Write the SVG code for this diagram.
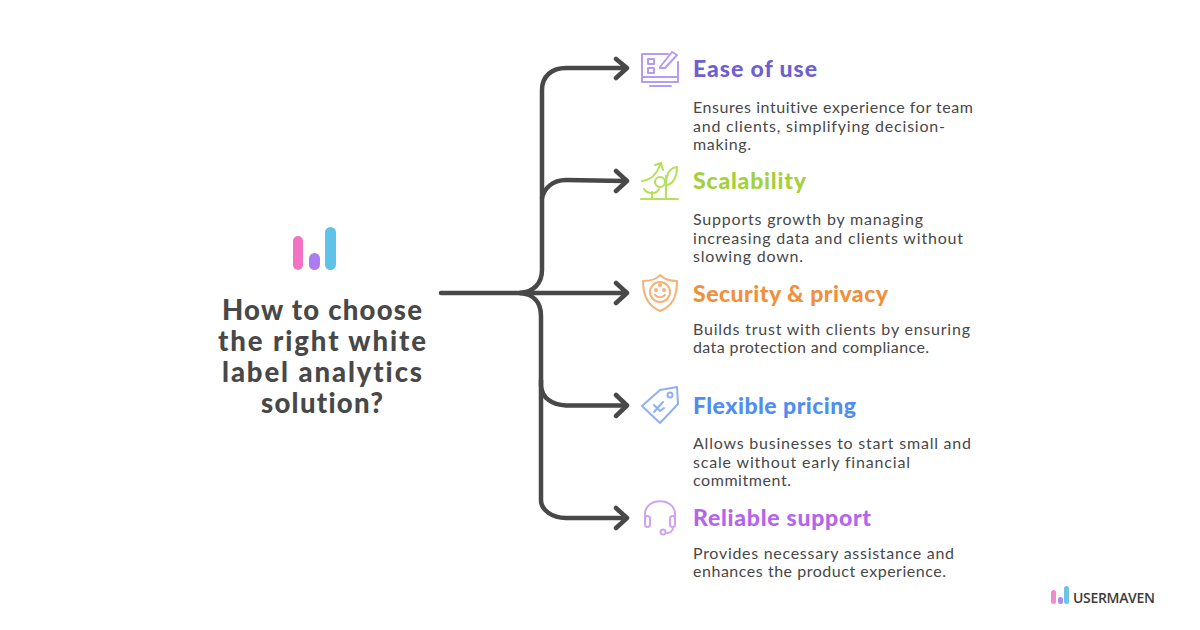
<svg xmlns="http://www.w3.org/2000/svg" width="1200" height="630" viewBox="0 0 1200 630">
<style>
text{font-variant-ligatures:none}
.t{font-family:"Lato","Noto Sans",sans-serif;font-weight:900;font-size:27.500px;fill:#484848;text-anchor:middle}
.h{font-family:"Lato","Noto Sans",sans-serif;font-weight:900;font-size:23px}
.b{font-family:"Lato","Noto Sans",sans-serif;font-size:16px;fill:#484848}
.c{fill:none;stroke:#484848;stroke-width:4.500;stroke-linecap:round;stroke-linejoin:round}
.i{fill:none;stroke-width:2;stroke-linecap:round;stroke-linejoin:round}
</style>
<rect width="1200" height="630" fill="#fff"/>
<g id="connectors" class="c">
<path d="M441 293H520C533 292 542 284 542 270V90C542 76 552 68 566 68L625 68"/>
<path d="M542 198C544 189 552 180 566 180L625 181"/>
<path d="M520 293L625 293"/>
<path d="M520 293C533 294 541 302 541 316V386C542 398 552 405 566 405.500L625 405.500"/>
<path d="M541 380V500C541 510 552 518 566 518L625 518"/>
<path d="M616 59L627 68L616 78M616 171L627 181L616 191M616 283L627 293L616 303M616 395L627 405.500L616 416M616 508L627 518L616 528"/>
</g>
<g id="central">
<g id="central-logo">
<rect x="293" y="236" width="10" height="34" rx="5" fill="#f472c4"/>
<rect x="309" y="253" width="11" height="17" rx="5.500" fill="#ab7df0"/>
<rect x="325" y="227" width="11" height="43" rx="5.500" fill="#5fc2e8"/>
</g>
<text class="t" x="322" y="320" textLength="200">How to choose</text>
<text class="t" x="322" y="351" textLength="208">the right white</text>
<text class="t" x="322" y="382" textLength="200">label analytics</text>
<text class="t" x="322" y="413" textLength="122">solution?</text>
</g>
<g id="ease">
<g class="i" stroke="#b49cf5">
<path d="M668 54H642V82H678V62"/><path d="M642 77H678M650 86H671"/>
<rect x="648" y="59" width="6" height="5"/><rect x="648" y="68" width="6" height="5"/>
<path d="M660 67L672 52L677 55L665 68L660 68Z"/>
</g>
<text class="h" x="693" y="77" fill="#6f5fd0" textLength="124">Ease of use</text>
<text class="b" x="693" y="113" textLength="280">Ensures intuitive experience for team</text>
<text class="b" x="693" y="132" textLength="252">and clients, simplifying decision-</text>
<text class="b" x="693" y="150" textLength="58">making.</text>
</g>
<g id="scalability">
<g class="i" stroke="#b4e05a">
<path d="M641 199H678M666 199V176M666 185C672 185 677 178 677 167C670 168 666 174 666 185Z"/>
<path d="M642 181C650 180 656 176 660 165M655 165L661 163L663 170"/>
<circle cx="660" cy="182" r="5"/><path d="M652 199V192M652 193C648 193 645 191 644 189M653 193C656 193 658 191 659 189"/>
</g>
<text class="h" x="693" y="189" fill="#a3d13d" textLength="113">Scalability</text>
<text class="b" x="693" y="225" textLength="230">Supports growth by managing</text>
<text class="b" x="693" y="244" textLength="270">increasing data and clients without</text>
<text class="b" x="693" y="262" textLength="110">slowing down.</text>
</g>
<g id="security">
<g class="i" stroke="#f5b27a">
<path d="M643 281C651 281 657 279 660 275C664 279 670 281 677 281C677 296 673 306 660 311C648 306 643 296 643 281Z"/>
<circle cx="660" cy="292" r="10"/><path d="M655 295C658 298 662 298 665 295"/>
<circle cx="656" cy="290" r="1"/><circle cx="664" cy="290" r="1"/><circle cx="660" cy="285" r="1"/>
</g>
<text class="h" x="693" y="302" fill="#f28f3b" textLength="195">Security &amp; privacy</text>
<text class="b" x="693" y="335" textLength="277">Builds trust with clients by ensuring</text>
<text class="b" x="693" y="353" textLength="236">data protection and compliance.</text>
</g>
<g id="pricing">
<g class="i" stroke="#8fb0f5">
<path d="M642 406L660 390L677 387L678 404L660 423Z"/>
<circle cx="670" cy="395" r="2.500"/>
<path d="M654 412L663 402M654 405L660 411L664 408"/>
</g>
<text class="h" x="693" y="414" fill="#4f8df5" textLength="163">Flexible pricing</text>
<text class="b" x="693" y="449" textLength="278">Allows businesses to start small and</text>
<text class="b" x="693" y="468" textLength="217">scale without early financial</text>
<text class="b" x="693" y="486" textLength="98">commitment.</text>
</g>
<g id="support">
<g class="i" stroke="#cfa3f2">
<path d="M645 523V514C645 497 675 497 675 514V523"/>
<rect x="645" y="516" width="5" height="11" rx="2.500"/><rect x="670" y="516" width="5" height="11" rx="2.500"/>
<path d="M673 527C673 531 670 533 667 533"/><circle cx="663" cy="532" r="2.500"/>
</g>
<text class="h" x="693" y="526" fill="#b565ec" textLength="178">Reliable support</text>
<text class="b" x="693" y="559" textLength="261">Provides necessary assistance and</text>
<text class="b" x="693" y="577" textLength="253">enhances the product experience.</text>
</g>
<g id="brand">
<rect x="1051" y="590" width="5" height="14" rx="2.500" fill="#f08cc8"/>
<rect x="1058" y="597" width="5" height="7" rx="2.500" fill="#a98cf0"/>
<rect x="1064" y="586" width="5" height="18" rx="2.500" fill="#6cc3e8"/>
<text x="1073" y="603" font-family="'Open Sans',sans-serif" font-weight="600" font-size="14" fill="#3c3c3c" textLength="82">USERMAVEN</text>
</g>
</svg>
